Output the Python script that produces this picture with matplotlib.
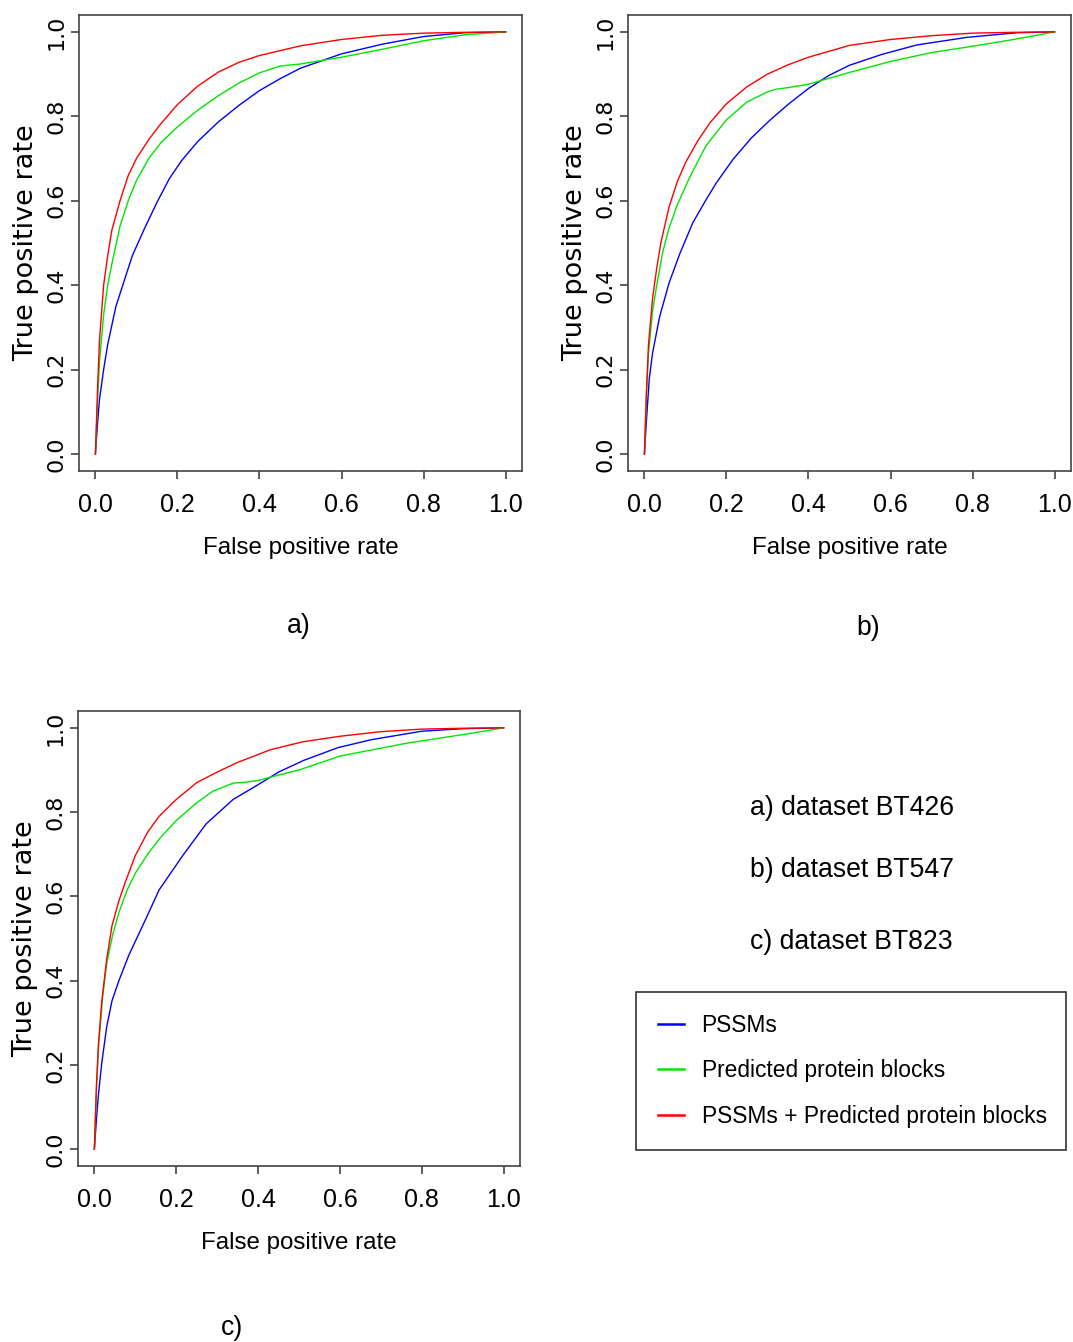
import numpy as np
import matplotlib
matplotlib.use("Agg")
import matplotlib.pyplot as plt
from matplotlib import font_manager

# ROC curves (fpr, tpr) per dataset and feature set
fpr_a_pssm = [0, 0.005, 0.01, 0.02, 0.03, 0.05, 0.07, 0.09, 0.12, 0.15, 0.18, 0.21, 0.25, 0.30, 0.35, 0.40, 0.45, 0.50, 0.60, 0.70, 0.80, 0.90, 1.0]
tpr_a_pssm = [0, 0.07, 0.13, 0.20, 0.26, 0.35, 0.41, 0.47, 0.535, 0.596, 0.652, 0.695, 0.741, 0.787, 0.826, 0.861, 0.889, 0.914, 0.948, 0.971, 0.989, 0.998, 1.0]
fpr_a_pb = [0, 0.005, 0.01, 0.02, 0.03, 0.04, 0.06, 0.08, 0.10, 0.13, 0.16, 0.20, 0.25, 0.30, 0.35, 0.40, 0.45, 0.50, 0.60, 0.70, 0.80, 0.90, 1.0]
tpr_a_pb = [0, 0.12, 0.22, 0.33, 0.40, 0.45, 0.54, 0.60, 0.648, 0.70, 0.738, 0.775, 0.815, 0.849, 0.879, 0.903, 0.919, 0.924, 0.94, 0.959, 0.979, 0.993, 1.0]
fpr_a_both = [0, 0.005, 0.01, 0.02, 0.03, 0.04, 0.06, 0.08, 0.10, 0.13, 0.16, 0.20, 0.25, 0.30, 0.35, 0.40, 0.50, 0.60, 0.70, 0.80, 0.90, 1.0]
tpr_a_both = [0, 0.15, 0.27, 0.40, 0.47, 0.53, 0.60, 0.66, 0.70, 0.745, 0.783, 0.828, 0.872, 0.905, 0.928, 0.944, 0.967, 0.982, 0.992, 0.997, 0.999, 1.0]

fpr_b_pssm = [0, 0.005, 0.012, 0.02, 0.037, 0.06, 0.086, 0.118, 0.15, 0.175, 0.216, 0.26, 0.305, 0.35, 0.40, 0.45, 0.50, 0.58, 0.664, 0.786, 0.908, 1.0]
tpr_b_pssm = [0, 0.08, 0.18, 0.24, 0.325, 0.405, 0.474, 0.548, 0.602, 0.642, 0.698, 0.748, 0.79, 0.828, 0.866, 0.897, 0.921, 0.947, 0.969, 0.987, 0.998, 1.0]
fpr_b_pb = [0, 0.005, 0.01, 0.02, 0.03, 0.045, 0.06, 0.08, 0.11, 0.15, 0.20, 0.25, 0.30, 0.32, 0.35, 0.40, 0.50, 0.60, 0.70, 0.80, 0.90, 1.0]
tpr_b_pb = [0, 0.14, 0.24, 0.34, 0.40, 0.48, 0.535, 0.59, 0.655, 0.73, 0.792, 0.834, 0.858, 0.864, 0.868, 0.876, 0.904, 0.93, 0.951, 0.966, 0.982, 1.0]
fpr_b_both = [0, 0.005, 0.01, 0.02, 0.03, 0.04, 0.06, 0.08, 0.10, 0.13, 0.16, 0.20, 0.25, 0.30, 0.35, 0.40, 0.50, 0.60, 0.70, 0.80, 0.90, 1.0]
tpr_b_both = [0, 0.15, 0.26, 0.37, 0.44, 0.50, 0.585, 0.645, 0.69, 0.742, 0.785, 0.83, 0.87, 0.90, 0.922, 0.94, 0.968, 0.982, 0.991, 0.997, 0.999, 1.0]

fpr_c_pssm = [0, 0.005, 0.01, 0.018, 0.03, 0.043, 0.06, 0.084, 0.125, 0.158, 0.216, 0.273, 0.339, 0.405, 0.45, 0.512, 0.595, 0.677, 0.80, 0.90, 1.0]
tpr_c_pssm = [0, 0.07, 0.13, 0.204, 0.29, 0.352, 0.40, 0.46, 0.545, 0.615, 0.697, 0.772, 0.83, 0.868, 0.895, 0.923, 0.953, 0.972, 0.992, 0.998, 1.0]
fpr_c_pb = [0, 0.005, 0.01, 0.02, 0.03, 0.045, 0.06, 0.08, 0.10, 0.13, 0.16, 0.20, 0.25, 0.29, 0.34, 0.37, 0.40, 0.45, 0.50, 0.60, 0.76, 0.92, 1.0]
tpr_c_pb = [0, 0.14, 0.24, 0.36, 0.44, 0.51, 0.562, 0.615, 0.655, 0.70, 0.738, 0.78, 0.822, 0.85, 0.869, 0.871, 0.875, 0.888, 0.90, 0.933, 0.963, 0.987, 1.0]
fpr_c_both = [0, 0.005, 0.01, 0.018, 0.03, 0.043, 0.06, 0.076, 0.10, 0.13, 0.158, 0.20, 0.25, 0.30, 0.35, 0.43, 0.51, 0.60, 0.70, 0.80, 0.90, 1.0]
tpr_c_both = [0, 0.15, 0.25, 0.35, 0.45, 0.53, 0.59, 0.635, 0.697, 0.752, 0.79, 0.83, 0.87, 0.895, 0.918, 0.948, 0.967, 0.98, 0.991, 0.997, 0.999, 1.0]

series_labels = ["PSSMs", "Predicted protein blocks", "PSSMs + Predicted protein blocks"]
series_colors = ["#0000ff", "#00e600", "#ff0000"]
ticks = [0.0, 0.2, 0.4, 0.6, 0.8, 1.0]
tick_labels = ["0.0", "0.2", "0.4", "0.6", "0.8", "1.0"]
dataset_notes = ["a) dataset BT426", "b) dataset BT547", "c) dataset BT823"]
panel_tags = ["a)", "b)", "c)"]

names = {f.name for f in font_manager.fontManager.ttflist}
if "Liberation Sans Narrow" in names:
    narrow, k, kl = "Liberation Sans Narrow", 1.0, 1.0
else:
    narrow, k, kl = "Liberation Sans", 0.87, 0.82  # shrink so widths come near the narrow text

W, H = 1073, 1342
fig = plt.figure(figsize=(W / 100, H / 100), dpi=100)


def px_axes(left, top, right, bottom):
    return fig.add_axes([left / W, 1 - bottom / H, (right - left) / W, (bottom - top) / H])


def roc_panel(ax, curves):
    lines = []
    for (x, y), c, lab in zip(curves, series_colors, series_labels):
        ln, = ax.plot(x, y, color=c, lw=1.0, label=lab)
        lines.append(ln)
    ax.set_xlim(-0.04, 1.04)
    ax.set_ylim(-0.04, 1.04)
    for s in ax.spines.values():
        s.set_color("#444444")
        s.set_linewidth(1.2)
    ax.set_xticks(ticks)
    ax.set_xticklabels(tick_labels, fontsize=18, family="Liberation Sans")
    ax.set_yticks(ticks)
    ax.set_yticklabels(tick_labels, fontsize=16, family="DejaVu Sans", rotation=90, va="center")
    ax.tick_params(direction="out", length=6, width=1.2, color="#444444")
    ax.tick_params(axis="x", pad=10)
    ax.tick_params(axis="y", pad=3)
    ax.set_xlabel("False positive rate", fontsize=20 * k, family=narrow, va="center")
    ax.xaxis.set_label_coords(0.5, -0.169)
    ax.set_ylabel("True positive rate", fontsize=19.5, family="DejaVu Sans", va="center")
    ax.yaxis.set_label_coords(-0.12, 0.5)
    return lines


ax_a = px_axes(79, 15, 522, 471)
roc_panel(ax_a, [(fpr_a_pssm, tpr_a_pssm), (fpr_a_pb, tpr_a_pb), (fpr_a_both, tpr_a_both)])
ax_b = px_axes(628, 15, 1071, 471)
roc_panel(ax_b, [(fpr_b_pssm, tpr_b_pssm), (fpr_b_pb, tpr_b_pb), (fpr_b_both, tpr_b_both)])
ax_c = px_axes(78, 711, 520, 1166)
handles = roc_panel(ax_c, [(fpr_c_pssm, tpr_c_pssm), (fpr_c_pb, tpr_c_pb), (fpr_c_both, tpr_c_both)])

for tag, (tx, ty) in zip(panel_tags, [(299, 626), (868, 628), (232, 1328)]):
    fig.text(tx / W, 1 - ty / H, tag, fontsize=22 * k, family=narrow, ha="center", va="center")

for note, yy in zip(dataset_notes, [808, 870, 942]):
    fig.text(750 / W, 1 - yy / H, note, fontsize=22 * k, family=narrow, ha="left", va="center")

fs_leg = 20 * kl
leg = fig.legend(handles, series_labels, loc="upper left",
                 bbox_to_anchor=(636 / W, 1 - 1149 / H, 430 / W, 157 / H), mode="expand",
                 prop={"family": narrow, "size": fs_leg}, frameon=True, fancybox=False,
                 borderaxespad=0, borderpad=0.95, labelspacing=1.0,
                 handlelength=1.14, handletextpad=0.79)
leg.get_frame().set_edgecolor("black")
leg.get_frame().set_linewidth(1.2)
for ln in leg.get_lines():
    ln.set_linewidth(1.8)

fig.savefig("out.png", dpi=100)
